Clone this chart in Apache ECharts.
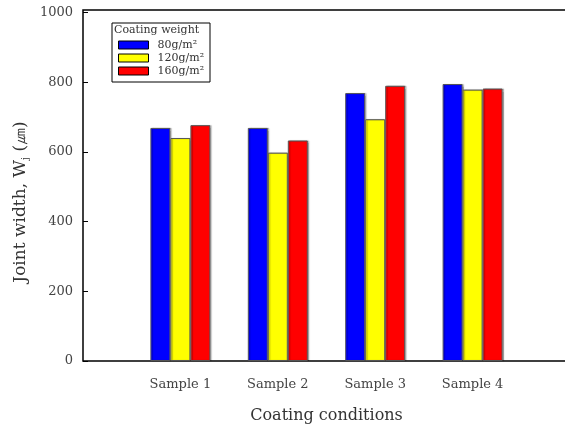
<!DOCTYPE html>
<html>
<head>
<meta charset="utf-8">
<script src="https://cdn.jsdelivr.net/npm/echarts@6/dist/echarts.min.js"></script>
<style>html,body{margin:0;padding:0;background:#fff}#c{width:565px;height:425px}</style>
</head>
<body>
<div id="c"></div>
<script>
const categories = ['', 'Sample 1', 'Sample 2', 'Sample 3', 'Sample 4', ''];
const seriesNames = ['80g/m²', '120g/m²', '160g/m²'];
const w80 = ['-', 669, 669, 769, 795, '-'];
const w120 = ['-', 640, 598, 694, 779, '-'];
const w160 = ['-', 677, 633, 790, 782, '-'];
const yTicks = [0, 200, 400, 600, 800, 1000];
const colors = ['#0000ff', '#ffff00', '#ff0000'];

const font = 'DejaVu Serif';
const chart = echarts.init(document.getElementById('c'));
const values = [w80, w120, w160];
chart.setOption({
  animation: false,
  backgroundColor: '#fff',
  grid: {left: 83, top: 10, width: 487, height: 351, show: true, borderColor: '#000', borderWidth: 1.5,
    backgroundColor: 'transparent', outerBoundsMode: 'none', containLabel: false},
  legend: {
    orient: 'vertical', left: 113, top: 34,
    itemWidth: 30, itemHeight: 8, itemGap: 1, icon: 'rect',
    itemStyle: {borderColor: '#000', borderWidth: 1, shadowBlur: 0, shadowOffsetX: 0},
    textStyle: {fontFamily: font, fontSize: 11, color: '#333', lineHeight: 12, padding: [0, 0, 0, 4]},
    data: seriesNames
  },
  graphic: [
    {type: 'rect', shape: {x: 112, y: 23, width: 98, height: 59}, style: {fill: '#fff', stroke: '#000', lineWidth: 1}, z: 0},
    {type: 'text', x: 114, y: 25, style: {text: 'Coating weight', font: '11px "DejaVu Serif"', fill: '#333'}, z: 10},
    {type: 'text', x: 21, y: 202, rotation: Math.PI / 2,
      style: {text: 'Joint width, W{s|j} (㎛)', rich: {s: {fontSize: 10, fontFamily: font, fill: '#333', padding: [8, 0, 0, 0]}},
        font: '17px "DejaVu Serif"', fill: '#333', align: 'center', verticalAlign: 'middle'}, z: 10}
  ],
  xAxis: {
    type: 'category', data: categories, boundaryGap: false,
    axisLine: {show: false}, axisTick: {show: false}, splitLine: {show: false},
    axisLabel: {interval: 0, fontFamily: font, fontSize: 13, color: '#444', margin: 17},
    name: 'Coating conditions', nameLocation: 'middle', nameGap: 47,
    nameTextStyle: {fontFamily: font, fontSize: 16, color: '#333'}
  },
  yAxis: {
    type: 'value', min: 0, max: 1007.5, interval: 200,
    axisLine: {show: false}, splitLine: {show: false},
    axisTick: {show: true, inside: true, length: 5, lineStyle: {color: '#000', width: 1}},
    axisLabel: {fontFamily: font, fontSize: 13, color: '#444', margin: 10, showMaxLabel: false,
      padding: [3, 0, 0, 0],
      formatter: v => yTicks.includes(v) ? String(v) : ''}
  },
  series: seriesNames.map((n, i) => ({
    name: n, type: 'bar', data: values[i], barWidth: 20, barGap: '0%',
    itemStyle: {color: colors[i], borderColor: '#555', borderWidth: 1,
      shadowColor: 'rgba(0,0,0,0.25)', shadowOffsetX: 1.5, shadowBlur: 1}
  }))
});
</script>
</body>
</html>
